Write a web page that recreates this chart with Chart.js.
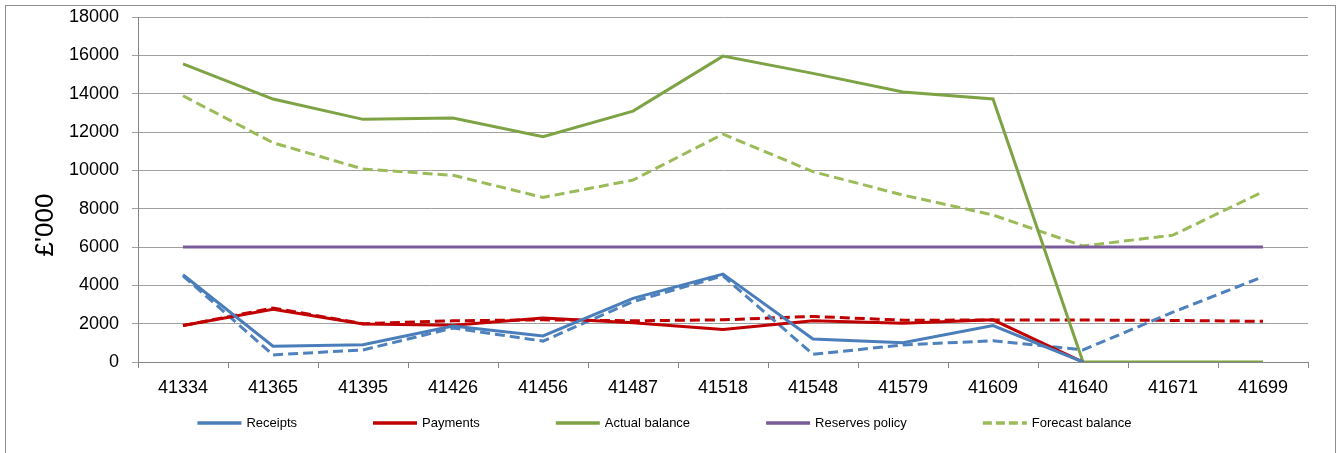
<!DOCTYPE html>
<html>
<head>
<meta charset="utf-8">
<title>Cash flow</title>
<script src="https://cdn.jsdelivr.net/npm/chart.js@4.4.1/dist/chart.umd.min.js"></script>
<style>
    body { margin: 0; background: #fff; overflow: hidden; }
</style>
</head>
<body>
<canvas id="cashChart" width="1341" height="453"></canvas>
<script>
// Month labels as they came out of the spreadsheet (date serials)
const months = [41334, 41365, 41395, 41426, 41456, 41487, 41518, 41548, 41579, 41609, 41640, 41671, 41699];

// Values in £'000
const receipts = [4550, 820, 900, 1880, 1360, 3320, 4590, 1200, 1000, 1900, 0, null, null];
const payments = [1900, 2750, 1980, 1920, 2300, 2050, 1700, 2150, 2020, 2200, 0, null, null];
const actualBalance = [15550, 13720, 12660, 12730, 11750, 13090, 15960, 15060, 14090, 13720, 0, 0, 0];
const reservesPolicy = [6000, 6000, 6000, 6000, 6000, 6000, 6000, 6000, 6000, 6000, 6000, 6000, 6000];
const forecastBalance = [13890, 11440, 10070, 9740, 8590, 9490, 11890, 9930, 8710, 7670, 6050, 6620, 8880];
const forecastReceipts = [4500, 370, 630, 1770, 1090, 3150, 4490, 400, 890, 1110, 630, 2600, 4450];
const forecastPayments = [1900, 2820, 2000, 2150, 2200, 2150, 2200, 2380, 2180, 2190, 2190, 2170, 2120];

const FONT = "'Liberation Sans', Arial, sans-serif";
const DASH = [10, 5];

function lineSeries(label, data, colour, dashed, inLegend) {
    return {
        label: label,
        data: data,
        borderColor: colour,
        backgroundColor: colour,
        borderWidth: 3,
        borderDash: dashed ? DASH : [],
        pointRadius: 0,
        tension: 0,
        fill: false,
        spanGaps: false,
        inLegend: inLegend
    };
}

// Frame, rotated axis title and the legend row are drawn by hand
const decorations = {
    id: 'decorations',
    beforeDraw(chart) {
        const ctx = chart.ctx;
        ctx.save();
        ctx.strokeStyle = '#8e8e8e';
        ctx.lineWidth = 1;
        ctx.strokeRect(5.5, 5.5, 1330, 470);
        ctx.restore();
    },
    afterDraw(chart) {
        const ctx = chart.ctx;
        ctx.save();

        // y axis title
        ctx.translate(46, 225);
        ctx.rotate(-Math.PI / 2);
        ctx.fillStyle = '#000';
        ctx.font = '26px ' + FONT;
        ctx.textAlign = 'center';
        ctx.textBaseline = 'middle';
        ctx.fillText("£'000", 0, 0);
        ctx.setTransform(1, 0, 0, 1, 0, 0);
        ctx.scale(chart.currentDevicePixelRatio, chart.currentDevicePixelRatio);

        // legend
        const items = chart.data.datasets.filter(ds => ds.inLegend);
        const sampleW = 44, gap = 5, spacing = 76, y = 423;
        ctx.font = '13px ' + FONT;
        const widths = items.map(ds => sampleW + gap + ctx.measureText(ds.label).width);
        const total = widths.reduce((a, b) => a + b, 0) + spacing * (items.length - 1);
        let x = (chart.width - total) / 2 - 6;
        items.forEach((ds, i) => {
            ctx.strokeStyle = ds.borderColor;
            ctx.lineWidth = 3.5;
            ctx.setLineDash(ds.borderDash.length ? [9, 4] : []);
            ctx.beginPath();
            ctx.moveTo(x, y);
            ctx.lineTo(x + sampleW, y);
            ctx.stroke();
            ctx.setLineDash([]);
            ctx.fillStyle = '#000';
            ctx.textAlign = 'left';
            ctx.textBaseline = 'middle';
            ctx.fillText(ds.label, x + sampleW + gap, y);
            x += widths[i] + spacing;
        });
        ctx.restore();
    }
};

const ctx = document.getElementById('cashChart');

const cashChart = new Chart(ctx, {
    type: 'line',
    data: {
        labels: months,
        datasets: [
            lineSeries('Receipts', receipts, '#4a7ebb', false, true),
            lineSeries('Payments', payments, '#c00000', false, true),
            lineSeries('Actual balance', actualBalance, '#7ea345', false, true),
            lineSeries('Reserves policy', reservesPolicy, '#7a5c9a', false, true),
            lineSeries('Forecast balance', forecastBalance, '#9bbb59', true, true),
            lineSeries('Forecast receipts', forecastReceipts, '#4f81bd', true, false),
            lineSeries('Forecast payments', forecastPayments, '#c00000', true, false)
        ]
    },
    options: {
        responsive: false,
        animation: false,
        layout: {
            padding: { left: 0, right: 33, top: 17, bottom: 0 }
        },
        plugins: {
            legend: { display: false },
            tooltip: { enabled: false }
        },
        scales: {
            x: {
                offset: true,
                afterFit: function(scale) {
                    scale.height = 91;
                    scale.paddingTop = 0;
                },
                grid: {
                    offset: true,
                    drawOnChartArea: false,
                    tickLength: 6,
                    color: '#868686'
                },
                border: { color: '#868686', width: 1 },
                ticks: {
                    color: '#000',
                    padding: 9,
                    maxRotation: 0,
                    autoSkip: false,
                    font: { family: FONT, size: 18 }
                }
            },
            y: {
                min: 0,
                max: 18000,
                afterFit: function(scale) {
                    scale.width = 138;
                    scale.paddingTop = 0;
                    scale.paddingBottom = 0;
                },
                grid: {
                    color: '#a0a0a0',
                    tickLength: 6,
                    lineWidth: 1
                },
                border: { color: '#868686', width: 1 },
                ticks: {
                    stepSize: 2000,
                    color: '#000',
                    padding: 13,
                    font: { family: FONT, size: 18 },
                    callback: value => value
                }
            }
        }
    },
    plugins: [decorations]
});
</script>
</body>
</html>
